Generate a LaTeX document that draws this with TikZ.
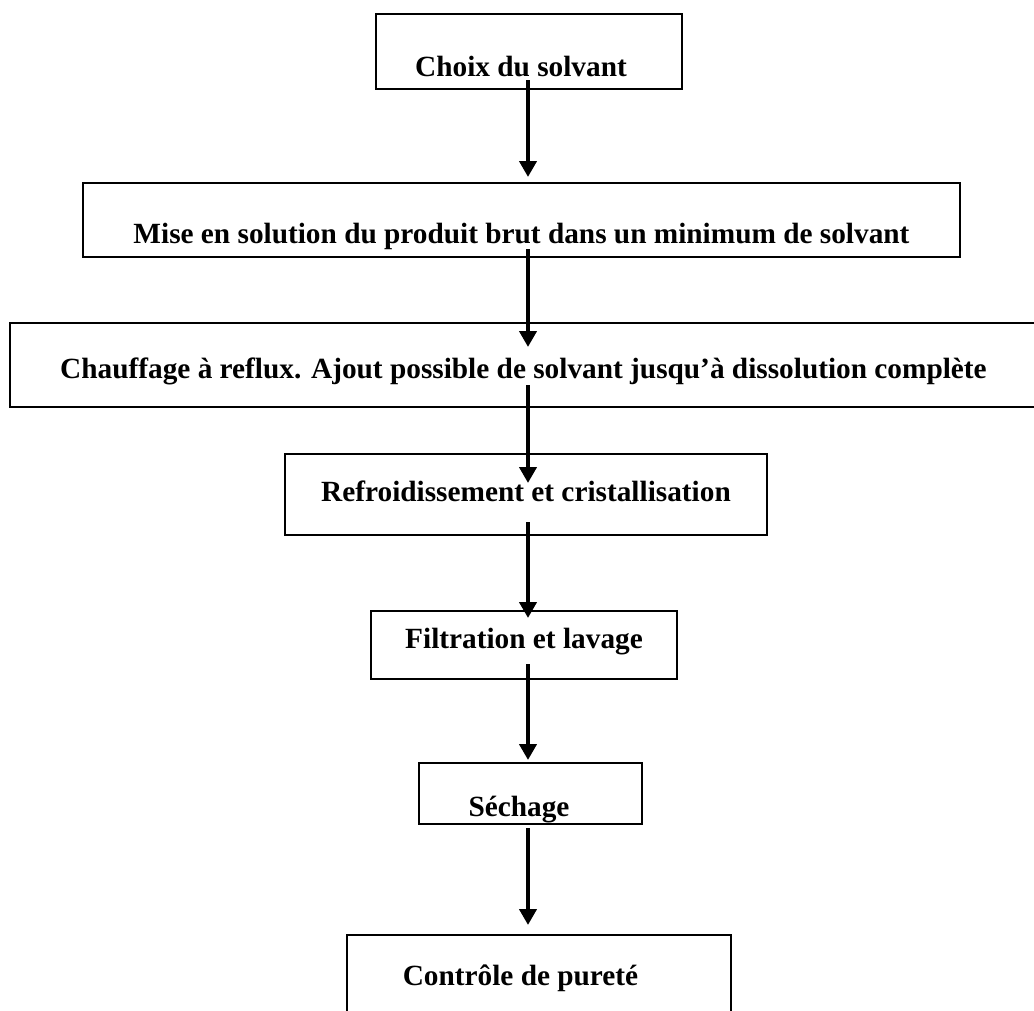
\documentclass[tikz,border=0pt]{standalone}
\usepackage{fontspec}
\setmainfont{Liberation Serif}
\usetikzlibrary{arrows.meta}

\begin{document}
\begin{tikzpicture}[x=1pt, y=-1pt,
                    stage/.style={rectangle, draw, line width=2pt, inner sep=0pt,
                                  anchor=north west,
                                  font=\bfseries\fontsize{29.3}{35}\selectfont},
                    flow/.style={line width=4pt, -{Triangle[width=17pt, length=16pt]}}]
  \useasboundingbox (0,0) rectangle (1034,1010);
  % the stages, top to bottom
  \node[stage, minimum width=306, text height=62, text depth=13] (choix) at (375,13) {Choix du solvant\hspace*{16pt}};
  \node[stage, minimum width=877, text height=60, text depth=14] (mise) at (82,182) {Mise en solution du produit brut dans un minimum de solvant};
  \node[stage, minimum width=1027, text height=55, text depth=29] (reflux) at (9,322) {Chauffage à reflux. Ajout possible de solvant jusqu’à dissolution complète};
  \node[stage, minimum width=482, text height=47, text depth=34] (refroid) at (284,453) {Refroidissement et cristallisation};
  \node[stage, minimum width=306, text height=37, text depth=31] (filtre) at (370,610) {Filtration et lavage};
  \node[stage, minimum width=223, text height=53, text depth=8] (sechage) at (418,762) {Séchage\hspace*{23pt}};
  \node[stage, minimum width=384, text height=50, text depth=60] (controle) at (346,934) {Contrôle de pureté\hspace*{37pt}};
  % arrows between the stages
  \draw[flow] ([shift={(-1,-10)}]choix.south) -- ([shift={(6.5,-5)}]mise.north);
  \draw[flow] ([shift={(6.5,-9)}]mise.south) -- ([shift={(4.5,25)}]reflux.north);
  \draw[flow] ([shift={(4.5,-23)}]reflux.south) -- ([shift={(2,30)}]refroid.north);
  \draw[flow] ([shift={(2,-14)}]refroid.south) -- ([shift={(4,8)}]filtre.north);
  \draw[flow] ([shift={(4,-16)}]filtre.south) -- ([shift={(-2.5,-2)}]sechage.north);
  \draw[flow] ([shift={(-2.5,3)}]sechage.south) -- ([shift={(-11,-9)}]controle.north);
\end{tikzpicture}
\end{document}
